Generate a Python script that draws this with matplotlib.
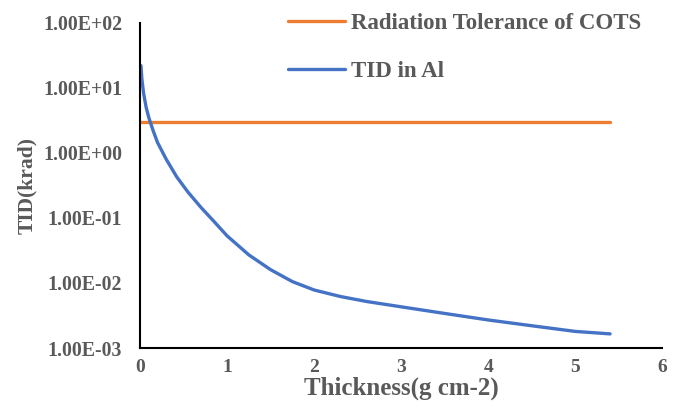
import numpy as np
import matplotlib; matplotlib.use("Agg")
import matplotlib.pyplot as plt
from matplotlib.ticker import FixedLocator, FixedFormatter

plt.rcParams.update({"font.family": "Liberation Serif", "font.weight": "bold"})

thickness = [0.01, 0.02, 0.04, 0.07, 0.1, 0.15, 0.2, 0.3, 0.42, 0.55, 0.7, 0.85,
             1.0, 1.25, 1.5, 1.75, 2.0, 2.3, 2.6, 3.0, 3.5, 4.0, 4.5, 5.0, 5.4]
tid_al = [22, 14, 8.3, 5.0, 3.5, 2.2, 1.45, 0.8, 0.43, 0.25, 0.145, 0.088,
          0.053, 0.027, 0.016, 0.0105, 0.0078, 0.0062, 0.0052, 0.0043, 0.0034,
          0.0027, 0.0022, 0.0018, 0.00165]
cots_x = [0, 5.4]
cots_tol = [3, 3]
ytick_vals = [1e-3, 1e-2, 1e-1, 1, 10, 100]
ytick_labels = ["1.00E-03", "1.00E-02", "1.00E-01", "1.00E+00", "1.00E+01", "1.00E+02"]

grey = "#595959"
fig = plt.figure(figsize=(6.8, 4.08), dpi=100)
ax = fig.add_axes([0.206, 0.147, 0.768, 0.797])
ax.plot(cots_x, cots_tol, color="#ED7D31", lw=2.4, solid_capstyle="round",
        label="Radiation Tolerance of COTS")
ax.plot(thickness, tid_al, color="#4472C4", lw=2.4, solid_capstyle="round",
        label="TID in Al")
ax.set_yscale("log")
ax.set_ylim(1e-3, 1e2); ax.set_xlim(0, 6)
ax.yaxis.set_major_locator(FixedLocator(ytick_vals))
ax.yaxis.set_major_formatter(FixedFormatter(ytick_labels))
ax.yaxis.set_minor_locator(FixedLocator([]))
ax.set_xticks(range(7))
for s in ("top", "right"): ax.spines[s].set_visible(False)
for s in ("left", "bottom"): ax.spines[s].set_linewidth(1.5)
ax.tick_params(length=0, labelsize=14.3, labelcolor=grey)
ax.tick_params(axis="y", pad=13)
ax.tick_params(axis="x", pad=8, labelsize=14)
for t in ax.get_xticklabels() + ax.get_yticklabels(): t.set_fontweight("bold")
ax.set_xlabel("Thickness(g cm-2)", fontsize=18, color=grey, fontweight="bold", labelpad=0.5)
ax.set_ylabel("TID(krad)", fontsize=15.5, color=grey, fontweight="bold", labelpad=4)
leg = ax.legend(loc="upper left", bbox_to_anchor=(0.244, 1.094), frameon=False,
                fontsize=16.5, handlelength=2.5, handletextpad=0.25, labelspacing=1.2)
for t in leg.get_texts(): t.set_color(grey)
plt.savefig("out.png", dpi=100)
